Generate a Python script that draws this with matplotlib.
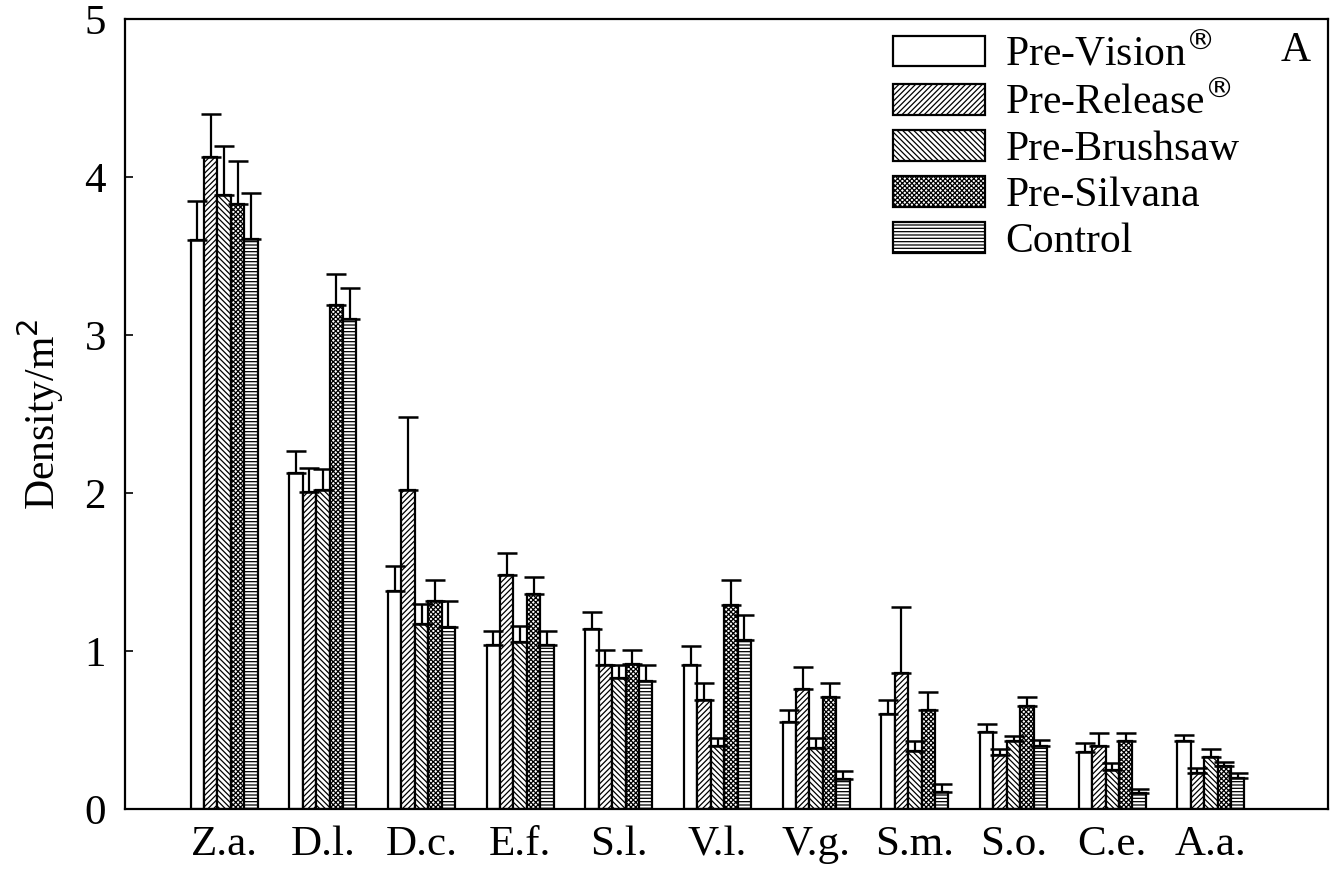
import numpy as np
import matplotlib.pyplot as plt

plt.rcParams['font.family'] = ['Liberation Serif', 'DejaVu Serif']
plt.rcParams['hatch.linewidth'] = 0.9

# ---- data ----
species = ['Z.a.', 'D.l.', 'D.c.', 'E.f.', 'S.l.', 'V.l.', 'V.g.', 'S.m.', 'S.o.', 'C.e.', 'A.a.']
series = ['Pre-Vision$^{\\circledR}$', 'Pre-Release$^{\\circledR}$', 'Pre-Brushsaw', 'Pre-Silvana', 'Control']

pre_vision   = [3.60, 2.13, 1.38, 1.04, 1.14, 0.91, 0.55, 0.60, 0.49, 0.36, 0.43]
pre_release  = [4.13, 2.01, 2.02, 1.48, 0.91, 0.69, 0.76, 0.86, 0.34, 0.40, 0.23]
pre_brushsaw = [3.89, 2.02, 1.17, 1.06, 0.83, 0.40, 0.39, 0.37, 0.43, 0.25, 0.33]
pre_silvana  = [3.83, 3.19, 1.32, 1.36, 0.92, 1.29, 0.71, 0.63, 0.65, 0.43, 0.27]
control      = [3.61, 3.10, 1.15, 1.04, 0.81, 1.07, 0.19, 0.11, 0.40, 0.10, 0.20]

err_vision   = [0.25, 0.14, 0.16, 0.09, 0.11, 0.12, 0.08, 0.09, 0.05, 0.06, 0.04]
err_release  = [0.27, 0.15, 0.46, 0.14, 0.10, 0.11, 0.14, 0.42, 0.04, 0.08, 0.03]
err_brushsaw = [0.31, 0.13, 0.13, 0.10, 0.08, 0.05, 0.06, 0.06, 0.03, 0.04, 0.05]
err_silvana  = [0.27, 0.20, 0.13, 0.11, 0.09, 0.16, 0.09, 0.11, 0.06, 0.05, 0.03]
err_control  = [0.29, 0.20, 0.17, 0.09, 0.10, 0.16, 0.05, 0.05, 0.04, 0.03, 0.03]

values = [pre_vision, pre_release, pre_brushsaw, pre_silvana, control]
errors = [err_vision, err_release, err_brushsaw, err_silvana, err_control]
hatches = ['', '//////', '\\\\\\\\\\\\', 'xxxxxxx', '-----']

fig = plt.figure(figsize=(13.35, 8.71), dpi=100)
ax = fig.add_axes([0.094, 0.071, 0.901, 0.907])

x = np.arange(len(species))
w = 0.136
for i, (vals, errs, h, lab) in enumerate(zip(values, errors, hatches, series)):
    pos = x + (i - 2) * w
    ax.bar(pos, vals, width=w, facecolor='white', edgecolor='black',
           linewidth=1.6, hatch=h, label=lab, zorder=2)
    ax.errorbar(pos, vals, yerr=[np.zeros(len(vals)), errs], fmt='none',
                ecolor='black', elinewidth=1.6, capsize=7, capthick=1.8, zorder=3)

ax.set_xlim(-1.0, 11.19)
ax.set_ylim(0, 5)
ax.set_yticks([0, 1, 2, 3, 4, 5])
ax.set_xticks(x)
ax.set_xticklabels(species)
ax.tick_params(axis='y', direction='in', length=6, width=1.2, labelsize=31, pad=14)
ax.tick_params(axis='x', length=0, labelsize=31, pad=12)
for s in ax.spines.values():
    s.set_linewidth(1.6)
ax.set_ylabel('Density/m$^2$', fontsize=30, labelpad=13)

leg = ax.legend(loc='upper left', bbox_to_anchor=(0.638, 0.983), frameon=False,
                fontsize=30, handlelength=2.2, handleheight=0.75,
                labelspacing=0.17, handletextpad=0.5, borderpad=0,
                borderaxespad=0)
ax.text(0.985, 0.985, 'A', transform=ax.transAxes, fontsize=30,
        ha='right', va='top')

fig.savefig('out.png', dpi=100)
